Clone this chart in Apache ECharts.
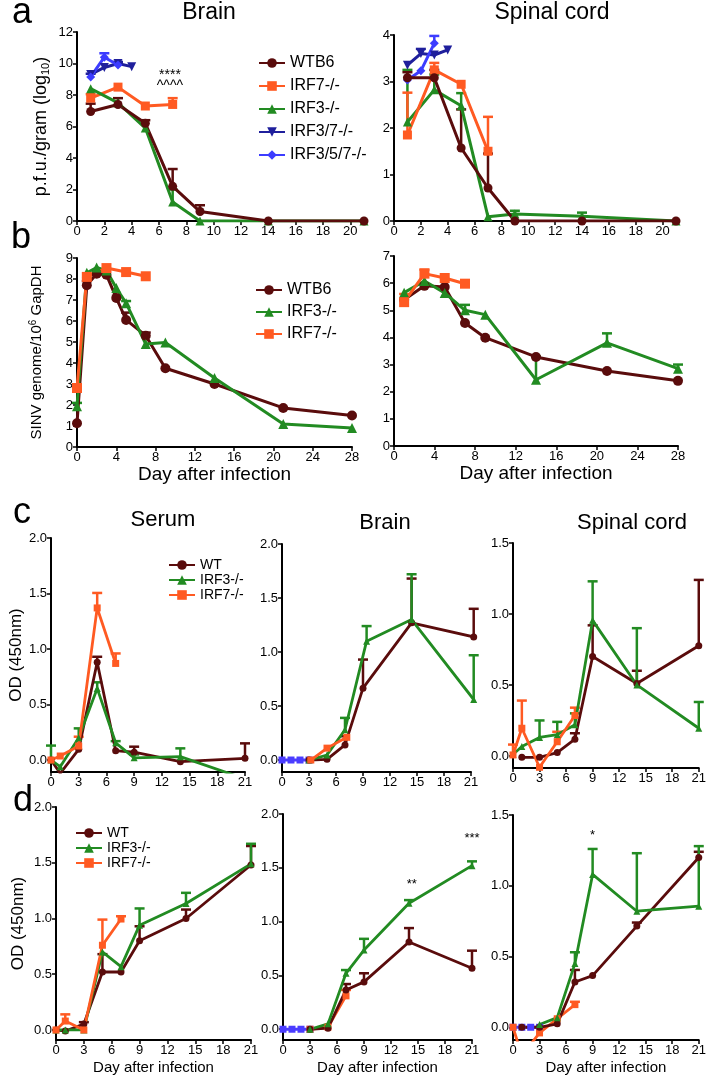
<!DOCTYPE html>
<html>
<head>
<meta charset="utf-8">
<script src="https://cdn.jsdelivr.net/npm/echarts@6/dist/echarts.min.js"></script>
<style>html,body{margin:0;padding:0;background:#fff}#c{width:709px;height:1089px}</style>
</head>
<body>
<div id="c"></div>
<script>
// ---------- data: [day, mean, upper error (null = none)] ----------
// panel a - Brain (p.f.u./gram log10)
const aBrainWT   = [[1,6.95,7.45],[3,7.4,7.8],[5,6.2,6.4],[7,2.2,3.3],[9,0.6,1.0],[14,0,null],[21,0,null]];
const aBrainIRF7 = [[1,7.8,8.05],[3,8.5,null],[5,7.3,null],[7,7.4,7.8]];
const aBrainIRF3 = [[1,8.4,null],[3,7.5,null],[5,5.9,null],[7,1.2,2.0],[9,0,null],[14,0,null],[21,0,null]];
const aBrainIRF37  = [[1,9.3,9.35],[2,9.75,null],[3,10.0,10.1],[4,9.8,null]];
const aBrainIRF357 = [[1,9.15,null],[2,10.4,10.65],[3,9.9,null]];
const aBrainStars = [[6.8,9.27],[6.8,8.55]];
const aBrainStarText = ['****','^^^^'];
// panel a - Spinal cord
const aSpWT   = [[1,3.08,3.2],[3,3.08,3.25],[5,1.57,2.4],[7,0.71,1.45],[9,0,null],[14,0,null],[21,0,null]];
const aSpIRF7 = [[1,1.85,2.76],[3,3.25,3.4],[5,2.94,null],[7,1.5,2.24]];
const aSpIRF3 = [[1,2.13,3.25],[3,2.82,3.15],[5,2.48,2.75],[7,0.09,null],[9,0.15,0.22],[14,0.1,0.18],[21,0,null]];
const aSpIRF37  = [[1,3.35,null],[2,3.6,3.7],[3,3.57,null],[4,3.68,null]];
const aSpIRF357 = [[1,3.03,null],[2,3.23,null],[3,3.82,3.98]];
// panel b - left (brain) SINV genome
const bLWT   = [[0,1.13,null],[1,7.7,7.9],[2,8.25,null],[3,8.2,null],[4,7.1,null],[5,6.05,6.4],[7,5.3,5.45],[9,3.75,null],[14,3.0,null],[21,1.86,null],[28,1.5,null]];
const bLIRF3 = [[0,1.94,2.1],[1,8.3,null],[2,8.55,null],[3,8.4,null],[4,7.57,null],[5,6.85,6.95],[7,4.9,null],[9,4.98,null],[14,3.29,null],[21,1.1,null],[28,0.9,null]];
const bLIRF7 = [[0,2.81,null],[1,8.1,null],[3,8.52,null],[5,8.33,null],[7,8.13,null]];
// panel b - right (spinal cord)
const bRWT   = [[1,5.39,null],[3,5.9,null],[5,5.86,null],[7,4.53,null],[9,3.99,null],[14,3.28,null],[21,2.76,null],[28,2.4,null]];
const bRIRF3 = [[1,5.65,null],[3,6.08,null],[5,5.64,null],[7,5.0,5.2],[9,4.84,null],[14,2.44,3.3],[21,3.8,4.15],[28,2.85,3.0]];
const bRIRF7 = [[1,5.3,5.6],[3,6.35,6.5],[5,6.19,null],[7,5.98,null]];
// panel c - Serum OD
const cSeWT   = [[0,0,null],[1,-0.12,null],[3,0.096,null],[5,0.88,0.93],[7,0.084,null],[9,0.07,0.12],[14,-0.015,null],[21,0.015,0.15]];
const cSeIRF3 = [[0,0,0.13],[1,-0.06,null],[3,0.2,0.285],[5,0.645,0.7],[7,0.155,0.17],[9,0.02,0.05],[14,0.03,0.105],[21,-0.17,null]];
const cSeIRF7 = [[0,0,null],[1,0.036,null],[3,0.126,0.21],[5,1.37,1.505],[7,0.87,0.96]];
// panel c - Brain OD
const cBrKO   = [[0,0,null],[1,0,null],[2,0,null],[3,0,null]];
const cBrWT   = [[3,0,null],[5,0.006,null],[7,0.14,0.22],[9,0.665,0.93],[14.4,1.27,1.68],[21.3,1.14,1.4]];
const cBrIRF3 = [[3,0,null],[5,0.046,null],[7,0.28,0.39],[9.4,1.1,1.24],[14.4,1.3,1.72],[21.3,0.56,0.97]];
const cBrIRF7 = [[3.2,0,null],[5,0.11,null],[7.2,0.21,null]];
// panel c - Spinal cord OD
const cSpWT   = [[1,-0.01,null],[3,-0.01,null],[5,0.024,null],[7,0.118,0.16],[9,0.7,0.92],[14,0.51,0.6],[21,0.776,1.24]];
const cSpIRF3 = [[0,0.01,null],[1,0.066,null],[3,0.13,0.25],[5,0.15,0.24],[7,0.22,0.3],[9,0.955,1.23],[14,0.5,0.9],[21,0.195,0.38]];
const cSpIRF7 = [[0,0.007,0.08],[1,0.195,0.39],[3,-0.08,null],[5,0.1,0.17],[7,0.285,0.34]];
// panel d - Serum OD
const dSeWT   = [[0,0,null],[1,-0.01,null],[3,0.054,0.07],[5,0.52,0.68],[7,0.52,null],[9,0.8,0.93],[14,1.0,1.08],[21,1.48,1.65]];
const dSeIRF3 = [[0,0,null],[1,0,null],[3,0,null],[5,0.7,null],[7,0.568,null],[9,0.94,1.09],[14,1.135,1.23],[21,1.49,1.67]];
const dSeIRF7 = [[0,0,null],[1,0.08,0.14],[3,0,null],[5,0.76,0.99],[7,0.995,1.02]];
// panel d - Brain OD
const dBrKO   = [[0,0,null],[1,0,null],[2,0,null],[3,0,null]];
const dBrWT   = [[3,0,null],[5,0.01,null],[7,0.365,0.42],[9,0.44,0.52],[14,0.81,0.94],[21,0.566,0.73]];
const dBrIRF3 = [[3,0,null],[5,0.05,null],[7,0.52,0.55],[9,0.736,0.84],[14,1.17,1.2],[21,1.52,1.56]];
const dBrIRF7 = [[3,0,null],[5,0.02,null],[7,0.31,0.365]];
const dBrStars = [[14.3,1.35],[21,1.77]];
const dBrStarText = ['**','***'];
// panel d - Spinal cord OD
const dSpKO   = [[0,0,null],[1,0,null],[2,0,null],[3,0,null]];
const dSpWT   = [[1,0,null],[3,0,null],[5,0.024,null],[7,0.32,0.405],[9,0.365,null],[14,0.715,0.74],[21,1.2,1.24]];
const dSpIRF3 = [[3,0.02,null],[5,0.068,null],[7,0.45,0.53],[9,1.08,1.26],[14,0.82,1.23],[21,0.856,1.28]];
const dSpIRF7 = [[0,0,null],[1,-0.2,null],[3,-0.04,null],[5,0.06,null],[7,0.16,0.18]];
const dSpStars = [[9,1.355]];
const dSpStarText = ['*'];

// tick labels
const ticksA = [0,2,4,6,8,10,12,14,16,18,20];
const ticksB = [0,4,8,12,16,20,24,28];
const ticksCD = [0,3,6,9,12,15,18,21];
const yOD2 = [0,0.5,1.0,1.5,2.0];
const yOD15 = [0,0.5,1.0,1.5];

// ---------- styling ----------
const FONT = 'Liberation Sans, Arial, Helvetica, sans-serif';
const COL = {wt:'#5a0c0c', irf7:'#ff5a22', irf3:'#228b22', irf37:'#1f1f9c', irf357:'#3c3cff', ko:'#4a3cff'};
const INV_TRI = 'path://M0,0 L10,0 L5,9 Z';
const STY = {
  'WTB6':{c:COL.wt, s:'circle'}, 'WT':{c:COL.wt, s:'circle'},
  'IRF7-/-':{c:COL.irf7, s:'rect'}, 'IRF3-/-':{c:COL.irf3, s:'triangle'},
  'IRF3/7-/-':{c:COL.irf37, s:INV_TRI}, 'IRF3/5/7-/-':{c:COL.irf357, s:'diamond'},
  'KO':{c:COL.ko, s:'rect'}
};

const grids=[], xAxes=[], yAxes=[], series=[];
function axisBase(){
  return {type:'value', splitLine:{show:false},
    axisLine:{show:true,onZero:false,lineStyle:{color:'#000',width:2}},
    axisTick:{show:true,length:4,lineStyle:{color:'#000',width:1.5}},
    axisLabel:{color:'#000',fontSize:13,margin:4,fontFamily:FONT}};
}
function panel(rect, xo, yo){
  const i=grids.length;
  grids.push({left:rect[0],top:rect[1],width:rect[2],height:rect[3]});
  const xa=axisBase(); xa.gridIndex=i; xa.min=xo.min; xa.max=xo.max;
  xa.axisLabel.customValues=xo.ticks; xa.axisTick.customValues=xo.ticks;
  if(xo.name){ Object.assign(xa,{name:xo.name,nameLocation:'middle',nameGap:xo.gap,
    nameTextStyle:{color:'#000',fontSize:xo.size,fontFamily:FONT}}); }
  const ya=axisBase(); ya.gridIndex=i; ya.min=yo.min; ya.max=yo.max;
  ya.axisLabel.customValues=yo.ticks; ya.axisTick.customValues=yo.ticks;
  if(yo.fmt) ya.axisLabel.formatter=yo.fmt;
  if(yo.name){ Object.assign(ya,{name:yo.name,nameLocation:'middle',nameGap:yo.gap,
    nameTextStyle:Object.assign({color:'#000',fontSize:yo.size,fontFamily:FONT},yo.nts||{})}); }
  xAxes.push(xa); yAxes.push(ya);
  return i;
}
function addSeries(i, name, pts, opt){
  opt = opt||{};
  const st=STY[name];
  const lw = opt.lw||3, ss = opt.ss||9, half = opt.half||5;
  series.push({type:'line', name:name, xAxisIndex:i, yAxisIndex:i,
    data:pts.map(p=>[p[0],p[1]]), symbol:st.s, symbolSize:ss, showSymbol:true,
    clip: opt.clip===undefined ? true : opt.clip,
    lineStyle:{color:st.c,width:lw}, itemStyle:{color:st.c}, z:opt.z||2, silent:true});
  const e=pts.filter(p=>p[2]!=null);
  if(e.length){
    series.push({type:'custom', name:name+'_err', xAxisIndex:i, yAxisIndex:i, silent:true, z:opt.z||2,
      data:e.map(p=>[p[0],p[1],p[2]]), encode:{x:0,y:[1,2]},
      renderItem:function(params, api){
        const a=api.coord([api.value(0),api.value(1)]);
        const b=api.coord([api.value(0),api.value(2)]);
        return {type:'group', children:[
          {type:'line', shape:{x1:a[0],y1:a[1],x2:b[0],y2:b[1]}, style:{stroke:st.c,lineWidth:2.5}},
          {type:'line', shape:{x1:b[0]-half,y1:b[1],x2:b[0]+half,y2:b[1]}, style:{stroke:st.c,lineWidth:2.5}}
        ]};
      }});
  }
}
function addText(i, pts, labels, size){
  series.push({type:'custom', name:'txt', xAxisIndex:i, yAxisIndex:i, silent:true, z:5,
    data:pts, encode:{x:0,y:1},
    renderItem:function(params, api){
      const c=api.coord([api.value(0),api.value(1)]);
      return {type:'text', x:c[0], y:c[1], style:{text:labels[params.dataIndex], align:'center',
        verticalAlign:'middle', fill:'#000', fontSize:size, fontFamily:FONT}};
    }});
}
const fmt1 = v => v.toFixed(1);

// ---------- panels ----------
// a Brain
let p = panel([77,32,287,189], {min:0,max:21,ticks:ticksA},
  {min:0,max:12,ticks:[0,2,4,6,8,10,12],name:'p.f.u./gram (log{sub|10})',gap:26,size:18,
   nts:{rich:{sub:{fontSize:11,padding:[9,0,0,0],fontFamily:FONT,color:'#000'}}}});
addSeries(p,'IRF3/7-/-',aBrainIRF37);
addSeries(p,'IRF3/5/7-/-',aBrainIRF357);
addSeries(p,'IRF7-/-',aBrainIRF7);
addSeries(p,'IRF3-/-',aBrainIRF3);
addSeries(p,'WTB6',aBrainWT);
addText(p,aBrainStars,aBrainStarText,14);
// a Spinal cord
p = panel([394,35,282,186], {min:0,max:21,ticks:ticksA}, {min:0,max:4,ticks:[0,1,2,3,4]});
addSeries(p,'IRF3/7-/-',aSpIRF37);
addSeries(p,'IRF3/5/7-/-',aSpIRF357);
addSeries(p,'IRF3-/-',aSpIRF3);
addSeries(p,'IRF7-/-',aSpIRF7);
addSeries(p,'WTB6',aSpWT);
// b left
p = panel([77,258,275,189], {min:0,max:28,ticks:ticksB,name:'Day after infection',gap:16,size:19},
  {min:0,max:9,ticks:[0,1,2,3,4,5,6,7,8,9],name:'SINV genome/10{sup|6} GapDH',gap:31,size:15,
   nts:{rich:{sup:{fontSize:10,padding:[0,0,8,0],fontFamily:FONT,color:'#000'}}}});
addSeries(p,'WTB6',bLWT,{ss:10});
addSeries(p,'IRF3-/-',bLIRF3,{ss:10});
addSeries(p,'IRF7-/-',bLIRF7,{ss:10});
// b right
p = panel([394,256,284,190], {min:0,max:28,ticks:ticksB,name:'Day after infection',gap:17,size:19},
  {min:0,max:7,ticks:[0,1,2,3,4,5,6,7]});
addSeries(p,'WTB6',bRWT,{ss:10});
addSeries(p,'IRF3-/-',bRIRF3,{ss:10});
addSeries(p,'IRF7-/-',bRIRF7,{ss:10});
// c Serum
p = panel([51,538,194,234], {min:0,max:21,ticks:ticksCD},
  {min:-0.108,max:2.0,ticks:yOD2,fmt:fmt1,name:'OD (450nm)',gap:24,size:17});
addSeries(p,'WT',cSeWT,{ss:7,lw:2.8});
addSeries(p,'IRF3-/-',cSeIRF3,{ss:7,lw:2.8});
addSeries(p,'IRF7-/-',cSeIRF7,{ss:7,lw:2.8});
// c Brain
p = panel([282,544,189,228], {min:0,max:21,ticks:ticksCD},
  {min:-0.111,max:2.0,ticks:yOD2,fmt:fmt1});
addSeries(p,'KO',cBrKO,{ss:7,lw:2.8});
addSeries(p,'WT',cBrWT,{ss:7,lw:2.8,clip:false});
addSeries(p,'IRF3-/-',cBrIRF3,{ss:7,lw:2.8,clip:false});
addSeries(p,'IRF7-/-',cBrIRF7,{ss:7,lw:2.8});
// c Spinal cord
p = panel([513,543,189,225], {min:0,max:21,ticks:ticksCD},
  {min:-0.085,max:1.5,ticks:yOD15,fmt:fmt1});
addSeries(p,'WT',cSpWT,{ss:7,lw:2.8});
addSeries(p,'IRF3-/-',cSpIRF3,{ss:7,lw:2.8});
addSeries(p,'IRF7-/-',cSpIRF7,{ss:7,lw:2.8});
// d Serum
p = panel([56,807,195,233], {min:0,max:21,ticks:ticksCD,name:'Day after infection',gap:20,size:15},
  {min:-0.09,max:2.0,ticks:yOD2,fmt:fmt1,name:'OD (450nm)',gap:29,size:17});
addSeries(p,'WT',dSeWT,{ss:7,lw:2.8});
addSeries(p,'IRF3-/-',dSeIRF3,{ss:7,lw:2.8});
addSeries(p,'IRF7-/-',dSeIRF7,{ss:7,lw:2.8});
// d Brain
p = panel([283,814,189,226], {min:0,max:21,ticks:ticksCD,name:'Day after infection',gap:20,size:15},
  {min:-0.1,max:2.0,ticks:yOD2,fmt:fmt1});
addSeries(p,'KO',dBrKO,{ss:7,lw:2.8});
addSeries(p,'IRF7-/-',dBrIRF7,{ss:7,lw:2.8});
addSeries(p,'WT',dBrWT,{ss:7,lw:2.8});
addSeries(p,'IRF3-/-',dBrIRF3,{ss:7,lw:2.8});
addText(p,dBrStars,dBrStarText,13);
// d Spinal cord
p = panel([513,815,189,225], {min:0,max:21,ticks:ticksCD,name:'Day after infection',gap:20,size:15},
  {min:-0.09,max:1.5,ticks:yOD15,fmt:fmt1});
addSeries(p,'KO',dSpKO,{ss:7,lw:2.8});
addSeries(p,'IRF7-/-',dSpIRF7,{ss:7,lw:2.8});
addSeries(p,'WT',dSpWT,{ss:7,lw:2.8});
addSeries(p,'IRF3-/-',dSpIRF3,{ss:7,lw:2.8});
addText(p,dSpStars,dSpStarText,13);

// ---------- legends ----------
function legend(left, top, names, size, gap){
  return {orient:'vertical', left:left, top:top, data:names, itemWidth:26, itemHeight:12,
    itemGap:gap, selectedMode:false, padding:0,
    textStyle:{color:'#000', fontSize:size, fontFamily:FONT, lineHeight:size}};
}
const legends = [
  legend(258,55,['WTB6','IRF7-/-','IRF3-/-','IRF3/7-/-','IRF3/5/7-/-'],16,7),
  legend(255,282,['WTB6','IRF3-/-','IRF7-/-'],16,6),
  legend(168,558,['WT','IRF3-/-','IRF7-/-'],14,1),
  legend(75,826,['WT','IRF3-/-','IRF7-/-'],14,1)
];

// ---------- labels (panel letters and titles) ----------
function txt(x,y,t,size){
  return {type:'text', x:x, y:y, style:{text:t, fontSize:size, fontFamily:FONT, fill:'#000',
    align:'center', verticalAlign:'middle'}};
}
const graphics = [
  txt(22,13,'a',36), txt(21,238,'b',36), txt(22,513,'c',36), txt(23,801,'d',36),
  txt(209,13,'Brain',23), txt(552,13,'Spinal cord',23),
  txt(163,520,'Serum',22), txt(385,523,'Brain',22), txt(632,523,'Spinal cord',22)
];

const chart = echarts.init(document.getElementById('c'), null, {renderer:'canvas'});
chart.setOption({
  animation:false, backgroundColor:'#fff',
  grid:grids, xAxis:xAxes, yAxis:yAxes, series:series, legend:legends, graphic:graphics
});
</script>
</body>
</html>
